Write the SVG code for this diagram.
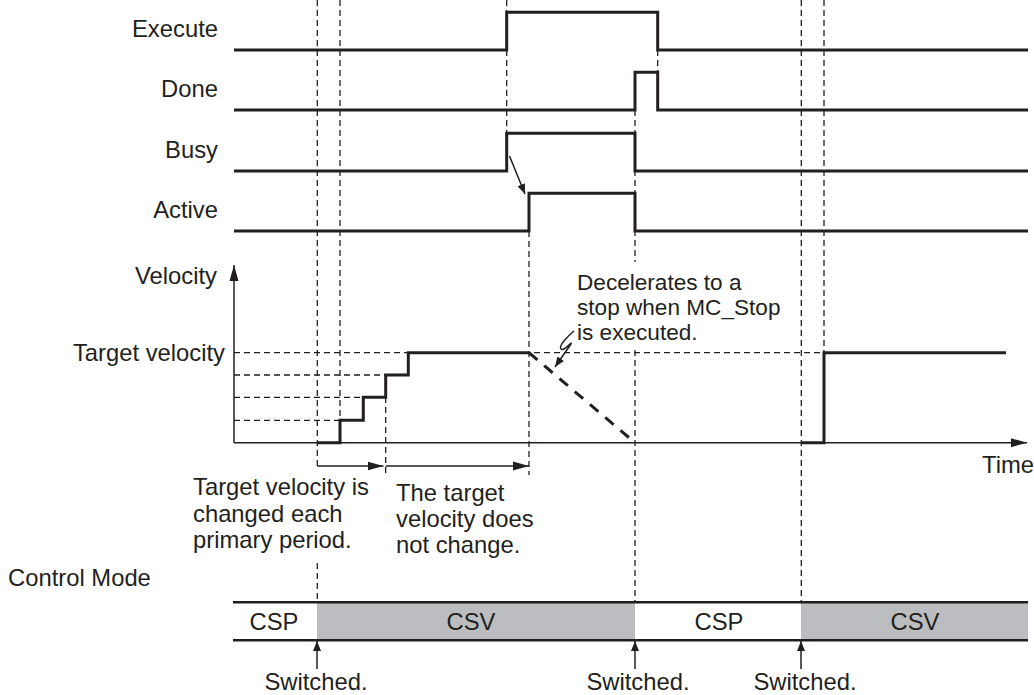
<svg xmlns="http://www.w3.org/2000/svg" width="1034" height="695" viewBox="0 0 1034 695">
  <defs>
    <style>
      text { font-family: "Liberation Sans", Arial, Helvetica, sans-serif; font-size: 23.8px; fill: #231f20; }
      .r { text-anchor: end; }
      .m { text-anchor: middle; }
      .co { font-size: 22.6px; }
      .sig { fill: none; stroke: #231f20; stroke-width: 3; stroke-linejoin: miter; }
      .dash { fill: none; stroke: #231f20; stroke-width: 1.3; stroke-dasharray: 6 4; }
      .thin { fill: none; stroke: #231f20; stroke-width: 1.5; }
      .bar { fill: none; stroke: #231f20; stroke-width: 2.6; }
      .gray { fill: #bcbdc0; }
    </style>
    <marker id="ah" viewBox="0 0 10 10" refX="10" refY="5" markerWidth="10" markerHeight="10" markerUnits="userSpaceOnUse" orient="auto">
      <path d="M0,1 L10,5 L0,9 Z" fill="#231f20"/>
    </marker>
    <marker id="ahL" viewBox="0 0 16 10" refX="16" refY="5" markerWidth="16" markerHeight="10" markerUnits="userSpaceOnUse" orient="auto">
      <path d="M0,0.5 L16,5 L0,9.5 Z" fill="#231f20"/>
    </marker>
  </defs>

  <!-- labels -->
  <g id="labels">
    <text class="r" x="218" y="37">Execute</text>
    <text class="r" x="218" y="97">Done</text>
    <text class="r" x="218" y="158">Busy</text>
    <text class="r" x="218" y="218">Active</text>
    <text class="r" x="217" y="284">Velocity</text>
    <text class="r" x="225" y="361">Target velocity</text>
    <text x="982" y="473">Time</text>
    <text x="8" y="586">Control Mode</text>
  </g>

  <!-- guide dashed lines -->
  <g id="guides">
    <line class="dash" x1="317.3" y1="0" x2="317.3" y2="470"/>
    <line class="dash" x1="317.3" y1="563" x2="317.3" y2="602"/>
    <line class="dash" x1="340" y1="0" x2="340" y2="420"/>
    <line class="dash" x1="385.7" y1="397" x2="385.7" y2="477"/>
    <line class="dash" x1="506.7" y1="0" x2="506.7" y2="133"/>
    <line class="dash" x1="529" y1="231" x2="529" y2="475"/>
    <line class="dash" x1="635" y1="110" x2="635" y2="262"/>
    <line class="dash" x1="635" y1="350" x2="635" y2="602"/>
    <line class="dash" x1="657.7" y1="50" x2="657.7" y2="72"/>
    <line class="dash" x1="801.3" y1="0" x2="801.3" y2="602"/>
    <line class="dash" x1="824" y1="0" x2="824" y2="352.7"/>
    <line class="dash" x1="234" y1="420.3" x2="340" y2="420.3"/>
    <line class="dash" x1="234" y1="397.3" x2="363.3" y2="397.3"/>
    <line class="dash" x1="234" y1="375" x2="385.7" y2="375"/>
    <line class="dash" x1="234" y1="352.7" x2="824" y2="352.7"/>
  </g>

  <!-- signals -->
  <g id="execute">
    <path class="sig" d="M234,50 H506.7 V12.3 H657.7 V50 H1028"/>
  </g>
  <g id="done">
    <path class="sig" d="M234,110 H635 V72.3 H657.7 V110 H1028"/>
  </g>
  <g id="busy">
    <path class="sig" d="M234,171 H506.7 V133.3 H635 V171 H1028"/>
  </g>
  <g id="active">
    <path class="sig" d="M234,231 H529 V193.3 H635 V231 H1028"/>
  </g>

  <!-- velocity axes -->
  <g id="axes">
    <line class="thin" x1="234" y1="442.7" x2="234" y2="265" marker-end="url(#ahL)"/>
    <line class="thin" x1="234" y1="442.7" x2="1027" y2="442.7" marker-end="url(#ahL)"/>
  </g>

  <g id="velocity">
    <path class="sig" d="M317,442.7 H340 V420.3 H363.3 V397.3 H385.7 V375 H408.3 V352.7 H529"/>
    <line x1="529" y1="352.7" x2="635" y2="442.7" stroke="#231f20" stroke-width="3" stroke-dasharray="11 9"/>
    <path class="sig" d="M801,442.7 H824 V352.7 H1006"/>
  </g>

  <!-- annotations -->
  <g id="connectors">
    <line class="thin" x1="509.5" y1="156" x2="525" y2="194" stroke-width="1.3" marker-end="url(#ah)"/>
    <path class="thin" stroke-width="1.2" d="M574,331 C568,336 558,346 561,349 C564,352 573,340 571,344 L555,367" marker-end="url(#ah)"/>
    <line class="thin" x1="317.3" y1="466" x2="383.5" y2="466" stroke-width="2" marker-end="url(#ahL)"/>
    <line class="thin" x1="385.7" y1="466" x2="529" y2="466" stroke-width="2" marker-end="url(#ahL)"/>
    <line class="thin" x1="317" y1="669" x2="317" y2="641" marker-end="url(#ah)"/>
    <line class="thin" x1="635" y1="669" x2="635" y2="641" marker-end="url(#ah)"/>
    <line class="thin" x1="801" y1="669" x2="801" y2="641" marker-end="url(#ah)"/>
  </g>

  <g id="callout">
    <text class="co" x="577" y="290">Decelerates to a</text>
    <text class="co" x="577" y="315.2">stop when MC_Stop</text>
    <text class="co" x="577" y="340.4">is executed.</text>
  </g>

  <g id="notes">
    <text x="193" y="495">Target velocity is</text>
    <text x="193" y="521.7">changed each</text>
    <text x="193" y="548.3">primary period.</text>
    <text x="396" y="501">The target</text>
    <text x="396" y="527.3">velocity does</text>
    <text x="396" y="553.3">not change.</text>
  </g>

  <!-- control mode bar -->
  <g id="control-mode">
    <rect class="gray" x="317" y="602" width="318" height="38"/>
    <rect class="gray" x="801" y="602" width="227" height="38"/>
    <line class="bar" x1="233" y1="602.3" x2="1028" y2="602.3"/>
    <line class="bar" x1="233" y1="640.3" x2="1028" y2="640.3"/>
    <text class="m" x="274" y="630">CSP</text>
    <text class="m" x="471" y="630">CSV</text>
    <text class="m" x="719" y="630">CSP</text>
    <text class="m" x="915" y="630">CSV</text>
    <text class="m" x="316" y="690">Switched.</text>
    <text class="m" x="638" y="690">Switched.</text>
    <text class="m" x="805" y="690">Switched.</text>
  </g>
</svg>
